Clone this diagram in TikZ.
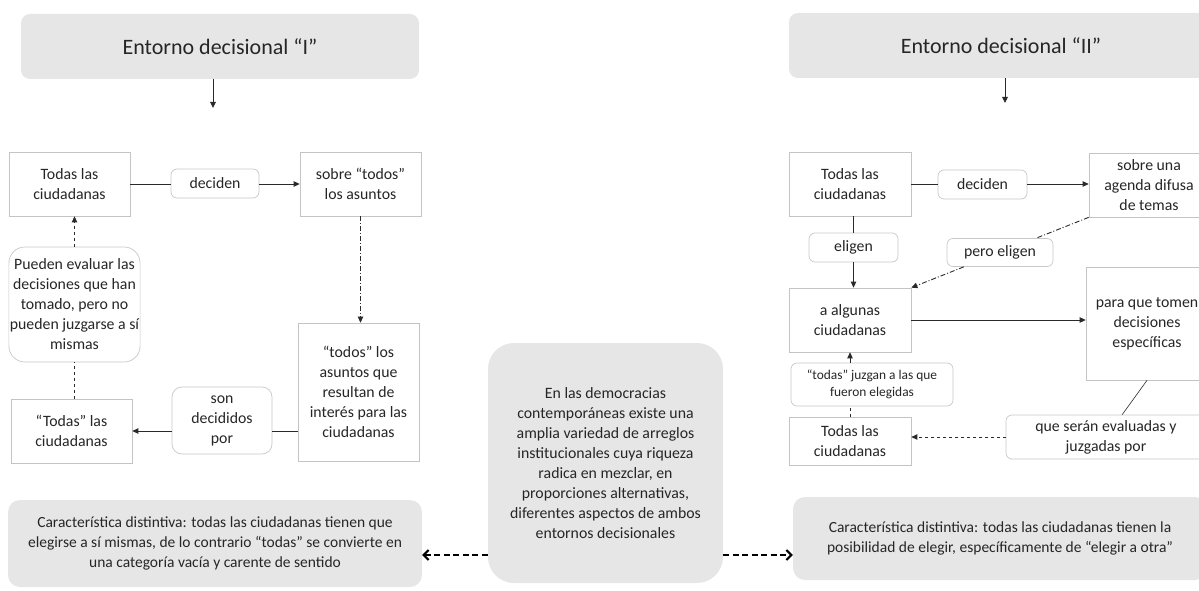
\documentclass[tikz,border=0pt]{standalone}
\usepackage{fontspec}
\setmainfont{Carlito}
\usetikzlibrary{arrows.meta,calc}
\definecolor{grayf}{HTML}{E6E6E6}
\definecolor{boxc}{HTML}{C4C4C4}
\definecolor{labc}{HTML}{C8C8C8}
\definecolor{txt}{HTML}{262626}
\definecolor{linec}{HTML}{2A2A2A}
\tikzset{
  body/.style={font=\fontsize{15.8}{20}\selectfont, text=txt},
  box/.style={body, draw=boxc, line width=0.7pt, fill=white, align=center, inner sep=1pt},
  lab/.style={body, draw=labc, line width=0.7pt, rounded corners=6pt, fill=white, align=center, inner sep=1pt},
  gbox/.style={fill=grayf, draw=none, rounded corners=9pt, align=center, text=txt, inner sep=2pt},
  conn/.style={draw=linec, line width=0.9pt},
  arr/.style={conn, -{Triangle[length=6pt,width=5.5pt]}},
  dashdot/.style={dash pattern=on 5pt off 2pt on 1pt off 2pt},
  bigarr/.style={draw=black, line width=2.3pt, dash pattern=on 6pt off 3.5pt, -{Straight Barb[length=5pt,width=10pt,line width=2pt]}}
}
\begin{document}
\begin{tikzpicture}[x=1pt,y=-1pt]
\useasboundingbox (0,0) rectangle (1199,591);
% titles
\node[gbox, minimum width=398pt, minimum height=65pt, font=\fontsize{22}{26}\selectfont] (T1) at (220,46.5) {Entorno decisional “I”};
\node[gbox, minimum width=424pt, minimum height=65pt, font=\fontsize{22}{26}\selectfont] (T2) at (1001,45.5) {Entorno decisional “II”};
\coordinate (t1e) at (213,108);
\coordinate (t2e) at (1005,103);
\draw[arr] (t1e |- T1.south) -- (t1e);
\draw[arr] (t2e |- T2.south) -- (t2e);

% left diagram
\node[box, minimum width=121pt, minimum height=64pt] (A) at (69.5,184) {Todas las\\ciudadanas};
\node[lab, minimum width=88pt, minimum height=29pt] (dec1) at (215,183.5) {deciden};
\node[box, minimum width=121pt, minimum height=64pt] (B) at (360.5,184) {sobre “todos”\\los asuntos};
\node[box, minimum width=121pt, minimum height=138pt] (C) at (358.5,392) {“todos” los\\asuntos que\\resultan de\\interés para las\\ciudadanas};
\node[box, minimum width=121pt, minimum height=64pt] (D) at (71.5,431) {“Todas” las\\ciudadanas};
\node[lab, minimum width=100pt, minimum height=67pt, rounded corners=10pt] (sd) at (222,420.5) {son\\decididos\\por};
\node[lab, minimum width=129pt, minimum height=115pt, rounded corners=16pt] (pe1) at (74.5,304.5) {Pueden evaluar las\\decisiones que han\\tomado, pero no\\pueden juzgarse a sí\\mismas};

\draw[conn] (A.east) -- (dec1.west |- A.east);
\draw[arr] (dec1.east |- A.east) -- (B.west);
\draw[arr, dashdot] (B.south) -- (B.south |- C.north);
\draw[conn] (C.west |- D.east) -- (sd.east |- D.east);
\draw[arr] (sd.west |- D.east) -- (D.east);
\draw[conn, dashed] (pe1.south |- D.north) -- (pe1.south);
\draw[arr, dashed] (pe1.north) -- (pe1.north |- A.south);

% right diagram
\node[box, minimum width=122pt, minimum height=64pt] (E) at (850,184) {Todas las\\ciudadanas};
\node[lab, minimum width=89pt, minimum height=29pt] (dec2) at (982.5,184.5) {deciden};
\node[box, minimum width=120pt, minimum height=64pt] (F) at (1149,185) {sobre una\\agenda difusa\\de temas};
\node[lab, minimum width=89pt, minimum height=29pt] (el) at (853.5,247.5) {eligen};
\node[box, minimum width=122pt, minimum height=64pt] (G) at (850,320) {a algunas\\ciudadanas};
\node[box, minimum width=122pt, minimum height=113pt] (H) at (1147,323.5) {para que tomen\\decisiones\\específicas};
\node[lab, minimum width=162pt, minimum height=43pt, font=\fontsize{13.4}{17}\selectfont] (tj) at (872,384.5) {“todas” juzgan a las que\\fueron elegidas};
\node[box, minimum width=122pt, minimum height=48pt] (I) at (850,441) {Todas las\\ciudadanas};
\node[lab, minimum width=200pt, minimum height=44pt] (qs) at (1106,437) {que serán evaluadas y\\juzgadas por};

\draw[conn] (E.east) -- (dec2.west |- E.east);
\draw[arr] (dec2.east |- E.east) -- (F.west |- E.east);
\draw[conn] (E.south -| el.north) -- (el.north);
\draw[arr] (el.south) -- (el.south |- G.north);
\draw[arr] (G.east) -- (G.east -| H.west);
\coordinate (pm) at ($(F.south west)!0.5!(G.north east)$);
\node[lab, minimum width=106pt, minimum height=28pt] (pe2) at (pm) {pero eligen};
\draw[conn, dashdot] (F.south west) -- (pe2);
\draw[arr, dashdot] (pe2) -- (G.north east);
\draw[conn, line width=0.6pt] (H.south) -- (qs);
\draw[arr, dashed] (qs.west) -- (qs.west -| I.east);
\draw[conn, dashed] (I.north) -- (I.north |- tj.south);
\draw[arr] (G.south |- tj.north) -- (G.south);

% bottom
\node[gbox, minimum width=235pt, minimum height=240pt, rounded corners=26pt, body] (M) at (605.5,463) {En las democracias\\contemporáneas existe una\\amplia variedad de arreglos\\institucionales cuya riqueza\\radica en mezclar, en\\proporciones alternativas,\\diferentes aspectos de ambos\\entornos decisionales};
\node[gbox, minimum width=414pt, minimum height=87pt, rounded corners=12pt, font=\fontsize{15.5}{20}\selectfont] (BL) at (215,543.5) {Característica distintiva: todas las ciudadanas tienen que\\elegirse a sí mismas, de lo contrario “todas” se convierte en\\una categoría vacía y carente de sentido};
\node[gbox, minimum width=414pt, minimum height=83pt, rounded corners=12pt, font=\fontsize{15.5}{20}\selectfont] (BR) at (1000,538.5) {Característica distintiva: todas las ciudadanas tienen la\\posibilidad de elegir, específicamente de “elegir a otra”};
\coordinate (ay) at (0,555);
\draw[bigarr] (M.west |- ay) -- (BL.east |- ay);
\draw[bigarr] (M.east |- ay) -- (BR.west |- ay);
\end{tikzpicture}
\end{document}
